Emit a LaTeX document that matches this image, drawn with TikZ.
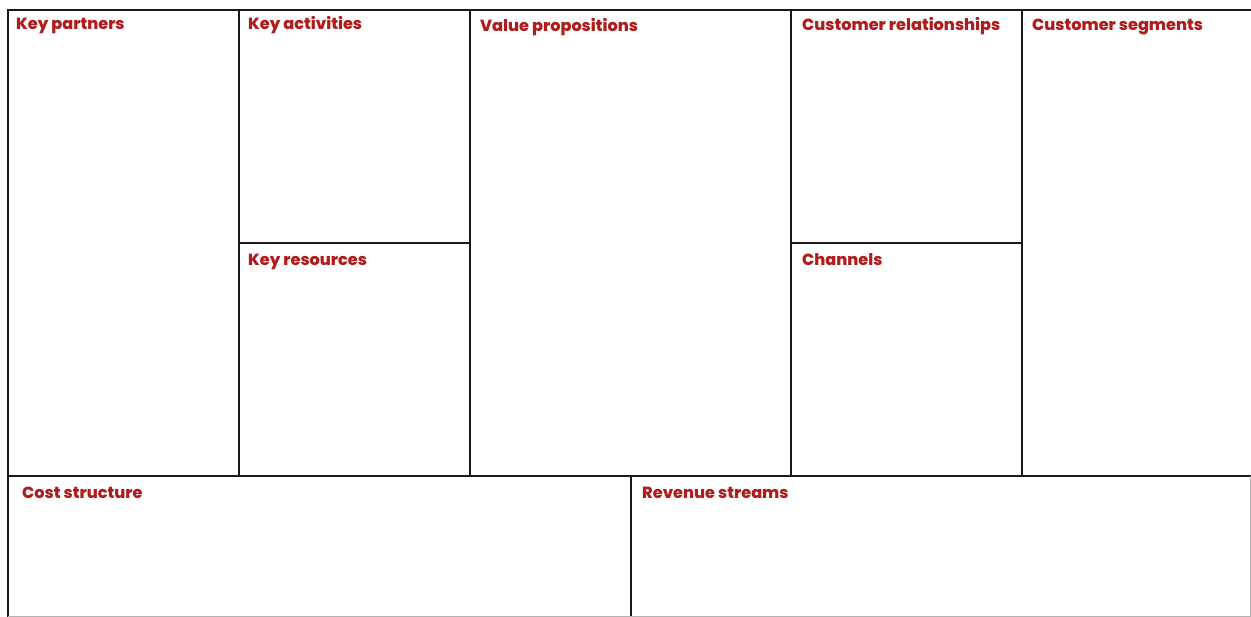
\documentclass[tikz,border=0pt]{standalone}
\usepackage{fontspec}
\setmainfont{Poppins}
\newfontfamily\heavyfont{Poppins}[UprightFont={* ExtraBold}]
\definecolor{labelred}{RGB}{176,28,28}
\begin{document}
\begin{tikzpicture}[x=1pt,y=-1pt,
  grid/.style={line width=2.9pt,black!90},
  edge/.style={line width=1pt,black!30},
  lbl/.style={anchor=base west,inner sep=0pt,text=labelred,font=\heavyfont\fontsize{16.1}{19}\selectfont}]
\useasboundingbox[fill=white] (0,0) rectangle (1251,617);
% outer frame
\draw[grid] (1251,10) -- (8,10) -- (8,617);
\draw[grid] (8,476) -- (1251,476);
% vertical dividers
\draw[grid] (239,10) -- (239,476);
\draw[grid] (470,10) -- (470,476);
\draw[grid] (791,10) -- (791,476);
\draw[grid] (1022,10) -- (1022,476);
\draw[grid] (631,476) -- (631,617);
% horizontal dividers
\draw[grid] (239,243) -- (470,243);
\draw[grid] (791,243) -- (1022,243);
% faint page edges
\draw[edge] (1250,476) -- (1250,617);
\draw[edge] (8,616) -- (1251,616);
% labels
\node[lbl] (kp) at (16,30) {Key partners};
\node[lbl] (ka) at (248,30) {Key activities};
\node[lbl] (vp) at (480,32) {Value propositions};
\node[lbl] (cr) at (802,31) {Customer relationships};
\node[lbl] (cs) at (1032,31) {Customer segments};
\node[lbl] (kr) at (248,266) {Key resources};
\node[lbl] (ch) at (802,266) {Channels};
\node[lbl] (cost) at (22,498) {Cost structure};
\node[lbl] (rev) at (642,498) {Revenue streams};
\end{tikzpicture}
\end{document}
